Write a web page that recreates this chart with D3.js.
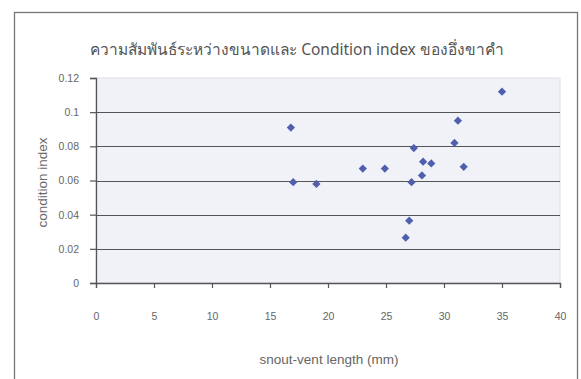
<!DOCTYPE html>
<html>
<head>
<meta charset="utf-8">
<script src="https://cdn.jsdelivr.net/npm/d3@7"></script>
<style>
  body { margin: 0; background: #fff; }
  text { font-family: "Liberation Sans", Arial, sans-serif; }
</style>
</head>
<body>
<svg id="canvas" width="581" height="379"></svg>
<script>
// snout-vent length (mm) and condition index
var svl = [16.8, 17, 19, 23, 24.9, 27.4, 27.2, 28.2, 28.9, 28.1, 31.7, 31.2, 30.9, 27.0, 26.7, 35];
var ci = [0.091, 0.059, 0.058, 0.067, 0.067, 0.079, 0.059, 0.071, 0.07, 0.063, 0.068, 0.095, 0.082, 0.0365, 0.0265, 0.112];
var xTicks = [0, 5, 10, 15, 20, 25, 30, 35, 40];
var yTicks = [0, 0.02, 0.04, 0.06, 0.08, 0.1, 0.12];
var yLabels = ['0', '0.02', '0.04', '0.06', '0.08', '0.1', '0.12'];

var canvas = d3.select('#canvas');

// plot box (window.top is read-only, so don't call it "top")
var pLeft = 96, pRight = 560, pTop = 78, pBottom = 283;

var x = d3.scaleLinear().domain([0, 40]).range([pLeft, pRight]);
var y = d3.scaleLinear().domain([0, 0.12]).range([pBottom, pTop]);

// chart frame
canvas.append('rect')
    .attr('x', 14.5).attr('y', 12.5)
    .attr('width', 563).attr('height', 380)
    .attr('fill', '#fff')
    .attr('stroke', '#777')
    .attr('stroke-width', 1.3);

// plot area
canvas.append('rect')
    .attr('x', pLeft).attr('y', pTop)
    .attr('width', pRight - pLeft).attr('height', pBottom - pTop)
    .attr('fill', '#f1f2f8')
    .attr('stroke', '#dedfe6');

// grid lines
canvas.append('g')
    .selectAll('line')
    .data(yTicks.slice(1, 6))
    .enter()
    .append('line')
    .attr('x1', pLeft).attr('x2', pRight)
    .attr('y1', function(d) { return Math.round(y(d)) + 0.5; })
    .attr('y2', function(d) { return Math.round(y(d)) + 0.5; })
    .attr('stroke', '#555')
    .attr('stroke-width', 1.2);

// axes
var xAxis = d3.axisBottom(x).tickValues(xTicks).tickSize(5).tickPadding(25);
var yAxis = d3.axisLeft(y).tickValues(yTicks).tickSize(6).tickPadding(11)
    .tickFormat(function(d, i) { return yLabels[i]; });

var gx = canvas.append('g')
    .attr('transform', 'translate(0,' + pBottom + ')')
    .call(xAxis);
var gy = canvas.append('g')
    .attr('transform', 'translate(' + pLeft + ',0)')
    .call(yAxis);

[gx, gy].forEach(function(g) {
    g.select('.domain').attr('stroke', '#555').attr('stroke-width', 1.3);
    g.selectAll('.tick line').attr('stroke', '#555').attr('stroke-width', 1.2);
    g.selectAll('.tick text')
        .attr('fill', '#666')
        .style('font-size', '10.5px')
        .style('font-family', '"Liberation Sans", Arial, sans-serif');
});

// points
canvas.append('g')
    .selectAll('path')
    .data(svl)
    .enter()
    .append('path')
    .attr('d', d3.symbol().type(d3.symbolSquare).size(34))
    .attr('transform', function(d, i) {
        return 'translate(' + x(d) + ',' + y(ci[i]) + ') rotate(45)';
    })
    .attr('fill', '#4f5fae');

// titles
canvas.append('text')
    .attr('x', 297).attr('y', 55)
    .attr('text-anchor', 'middle')
    .attr('fill', '#555')
    .style('font-size', '15.5px')
    .style('font-family', '"Noto Sans", "Liberation Sans", sans-serif')
    .text('ความสัมพันธ์ระหว่างขนาดและ Condition index ของอึ่งขาคำ');

canvas.append('text')
    .attr('x', 329).attr('y', 364)
    .attr('text-anchor', 'middle')
    .attr('fill', '#666')
    .style('font-size', '13.5px')
    .text('snout-vent length (mm)');

canvas.append('text')
    .attr('transform', 'translate(47,' + ((pTop + pBottom) / 2 + 2) + ') rotate(-90)')
    .attr('text-anchor', 'middle')
    .attr('fill', '#666')
    .style('font-size', '13.5px')
    .text('condition index');
</script>
</body>
</html>
